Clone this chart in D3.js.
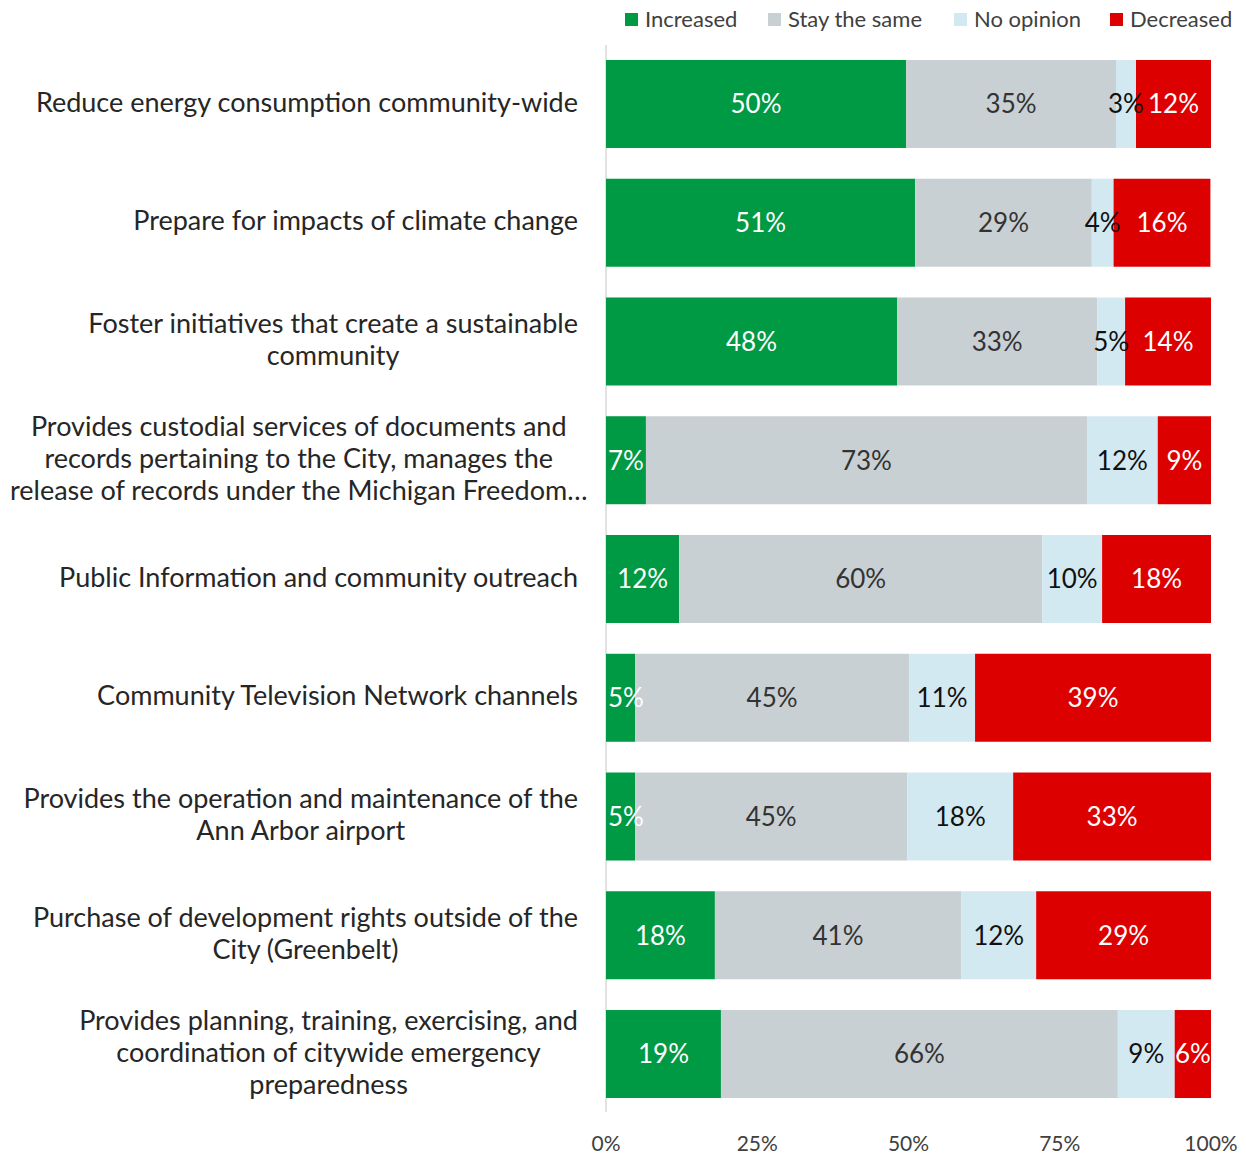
<!DOCTYPE html>
<html>
<head>
<meta charset="utf-8">
<script src="https://cdn.jsdelivr.net/npm/d3@7"></script>
<style>
  body { margin: 0; background: #fff; }
  text { font-family: Lato, "Open Sans", sans-serif; }
</style>
</head>
<body>
<script>
// data
var categories = [
    "Reduce energy consumption community-wide",
    "Prepare for impacts of climate change",
    "Foster initiatives that create a sustainable\ncommunity",
    "Provides custodial services of documents and\nrecords pertaining to the City, manages the\nrelease of records under the Michigan Freedom…",
    "Public Information and community outreach",
    "Community Television Network channels",
    "Provides the operation and maintenance of the\nAnn Arbor airport",
    "Purchase of development rights outside of the\nCity (Greenbelt)",
    "Provides planning, training, exercising, and\ncoordination of citywide emergency\npreparedness"
];
var seriesNames = ["Increased", "Stay the same", "No opinion", "Decreased"];
var increased = [49.6, 51.1, 48.1, 6.6, 12.1, 4.8, 4.8, 18.0, 19.0];
var staySame  = [34.7, 29.2, 33.1, 72.9, 60.0, 45.3, 45.0, 40.7, 65.6];
var noOpinion = [3.3, 3.6, 4.6, 11.7, 9.9, 10.9, 17.5, 12.4, 9.4];
var decreased = [12.4, 16.0, 14.2, 8.8, 18.0, 39.0, 32.7, 28.9, 6.0];
var xTicks = [0, 25, 50, 75, 100];

var colors = ["#009944", "#c9d0d3", "#d3e9f1", "#dd0000"];
var labelColors = ["#ffffff", "#333333", "#111111", "#ffffff"];

var width = 1246, height = 1157;

var svg = d3.select("body").append("svg")
    .attr("width", width)
    .attr("height", height);

var x = d3.scaleLinear().domain([0, 100]).range([606, 1211]);
var y = d3.scaleBand().domain(categories).range([44.6, 1113.4])
    .paddingInner(0.259).paddingOuter(0.1295);

var rows = categories.map(function(c, i) {
    return { cat: c, Increased: increased[i], "Stay the same": staySame[i],
             "No opinion": noOpinion[i], Decreased: decreased[i] };
});
var stack = d3.stack().keys(seriesNames);
var layers = stack(rows);

// axis line
svg.append("line")
    .attr("x1", x(0)).attr("x2", x(0))
    .attr("y1", 45).attr("y2", 1112)
    .attr("stroke", "#d9d9d9").attr("stroke-width", 1.5);

// bars
var layer = svg.selectAll(".layer")
    .data(layers)
    .enter().append("g")
    .attr("class", "layer");

layer.each(function(l, li) {
    var g = d3.select(this);
    g.selectAll("rect")
        .data(l)
        .enter().append("rect")
        .attr("x", function(d) { return x(d[0]); })
        .attr("width", function(d) { return x(d[1]) - x(d[0]); })
        .attr("y", function(d) { return y(d.data.cat); })
        .attr("height", y.bandwidth())
        .attr("fill", colors[li]);
});

// value labels (drawn after all bars so overlaps show like the original)
layer.each(function(l, li) {
    svg.append("g").selectAll("text")
        .data(l)
        .enter().append("text")
        .attr("y", function(d) { return y(d.data.cat) + y.bandwidth() / 2; })
        .attr("dy", "0.36em")
        .attr("text-anchor", "middle")
        .attr("font-size", 26)
        .attr("fill", labelColors[li])
        .text(function(d) { return Math.round(d[1] - d[0]) + "%"; })
        .attr("x", function(d) {
            // keep label inside the plot area, like the original
            var w = this.getComputedTextLength();
            return Math.max((x(d[0]) + x(d[1])) / 2, x(0) + 2 + w / 2);
        });
});

// category labels: lines centred in a block that is right aligned
var lineH = 32;
svg.selectAll(".cat")
    .data(categories)
    .enter().append("text")
    .attr("class", "cat")
    .attr("text-anchor", "middle")
    .attr("font-size", 27)
    .attr("fill", "#262626")
    .each(function(c) {
        var lines = c.split("\n");
        var cy = y(c) + y.bandwidth() / 2 - 2;
        var top = cy - (lines.length - 1) * lineH / 2;
        var t = d3.select(this);
        var spans = lines.map(function(s, k) {
            return t.append("tspan")
                .attr("y", top + k * lineH)
                .attr("dy", "0.36em")
                .text(s);
        });
        var maxW = d3.max(spans, function(sp) { return sp.node().getComputedTextLength(); });
        var cx = Math.max(578 - maxW / 2, 10 + maxW / 2);
        spans.forEach(function(sp) { sp.attr("x", cx); });
    });

// x tick labels
svg.selectAll(".tick")
    .data(xTicks)
    .enter().append("text")
    .attr("class", "tick")
    .attr("x", function(d) { return x(d); })
    .attr("y", 1151)
    .attr("text-anchor", "middle")
    .attr("font-size", 21)
    .attr("fill", "#404040")
    .text(function(d) { return d + "%"; });

// legend
var legendX = [625, 768, 954, 1110];
var lg = svg.selectAll(".legend")
    .data(seriesNames)
    .enter().append("g")
    .attr("class", "legend")
    .attr("transform", function(d, i) { return "translate(" + legendX[i] + ",0)"; });
lg.append("rect")
    .attr("y", 13).attr("width", 13).attr("height", 13)
    .attr("fill", function(d, i) { return colors[i]; });
lg.append("text")
    .attr("x", 20).attr("y", 27)
    .attr("font-size", 22)
    .attr("fill", "#404040")
    .text(function(d) { return d; });
</script>
</body>
</html>
